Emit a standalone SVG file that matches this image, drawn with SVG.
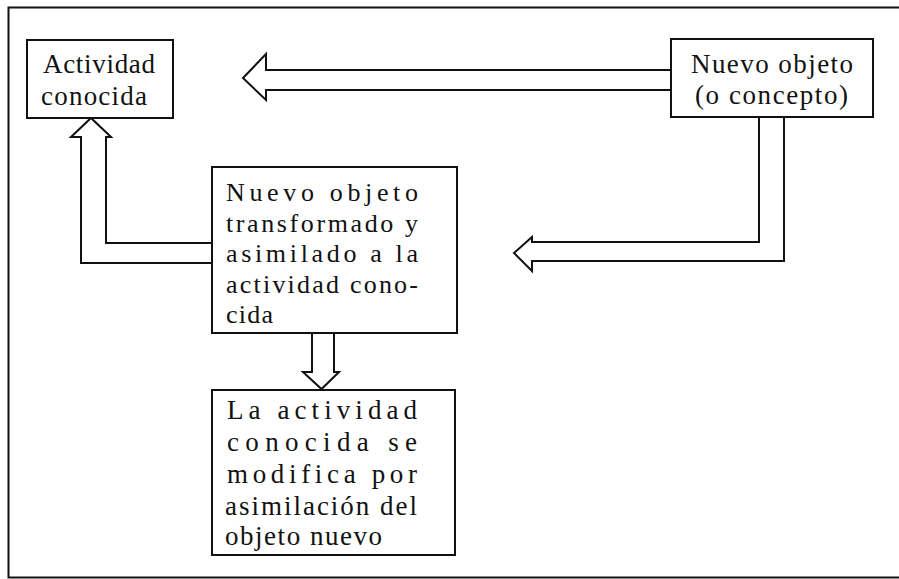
<svg xmlns="http://www.w3.org/2000/svg" width="899" height="579" viewBox="0 0 899 579">
<style>
  .box { fill: #fff; stroke: #111; stroke-width: 2; }
  .arrow { fill: #fff; stroke: #111; stroke-width: 2; stroke-linejoin: miter; }
  .frame { fill: none; stroke: #111; stroke-width: 2; }
  text { font-family: "Liberation Serif", "Times New Roman", serif; fill: #111; }
  .t27 { font-size: 27px; }
  .t26 { font-size: 26px; }
</style>
<rect width="899" height="579" fill="#fff"/>
<path class="frame" d="M910,7.5 H8.5 V577.5 H910"/>
<g id="connectors">
  <path class="arrow" d="M671,70 H266 V54 L243,78 L266,100 V90 H671"/>
  <path class="arrow" d="M212,263 H81 V137 H71 L91,118 L111,137 H106 V243 H212"/>
  <path class="arrow" d="M759,117 V242 H532 V237 L514,253 L532,271 V261 H784 V117"/>
  <path class="arrow" d="M312,333 V372 H303 L321.5,389 L339,372 H334 V333"/>
</g>
<g id="node-actividad">
  <rect class="box" x="27" y="40" width="146" height="78"/>
  <text class="t27" x="43" y="73" textLength="112" lengthAdjust="spacing">Actividad</text>
  <text class="t27" x="41" y="105" textLength="106" lengthAdjust="spacing">conocida</text>
</g>
<g id="node-nuevo">
  <rect class="box" x="671" y="39" width="202" height="78"/>
  <text class="t27" x="691" y="73" textLength="162" lengthAdjust="spacing">Nuevo objeto</text>
  <text class="t27" x="695" y="104" textLength="153" lengthAdjust="spacing">(o concepto)</text>
</g>
<g id="node-transformado">
  <rect class="box" x="212" y="167" width="245" height="166"/>
  <text class="t26" x="226" y="201" textLength="192" lengthAdjust="spacing">Nuevo objeto</text>
  <text class="t26" x="226" y="232" textLength="192" lengthAdjust="spacing">transformado y</text>
  <text class="t26" x="226" y="262" textLength="192" lengthAdjust="spacing">asimilado a la</text>
  <text class="t26" x="226" y="293" textLength="192" lengthAdjust="spacing">actividad cono-</text>
  <text class="t26" x="226" y="323" textLength="47" lengthAdjust="spacing">cida</text>
</g>
<g id="node-modifica">
  <rect class="box" x="212" y="390" width="243" height="165"/>
  <text class="t27" x="227" y="419" textLength="190" lengthAdjust="spacing">La actividad</text>
  <text class="t27" x="227" y="451" textLength="190" lengthAdjust="spacing">conocida se</text>
  <text class="t27" x="227" y="483" textLength="190" lengthAdjust="spacing">modifica por</text>
  <text class="t27" x="225" y="515" textLength="192" lengthAdjust="spacing">asimilación del</text>
  <text class="t27" x="225" y="545" textLength="157" lengthAdjust="spacing">objeto nuevo</text>
</g>
</svg>
